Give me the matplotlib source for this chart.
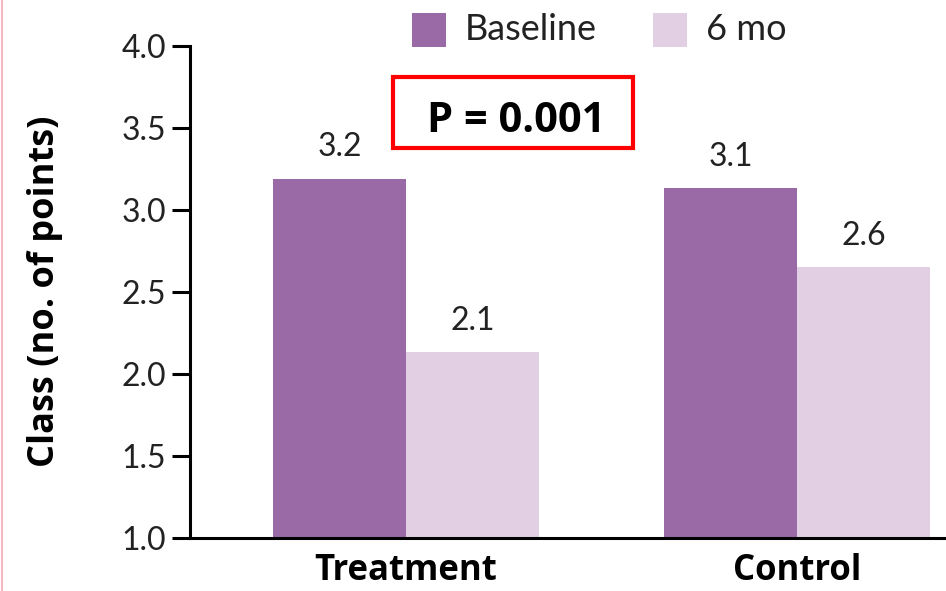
import matplotlib
matplotlib.use('Agg')
import matplotlib.pyplot as plt
import numpy as np
from matplotlib.lines import Line2D
from matplotlib.patches import Rectangle

groups = ['Treatment', 'Control']
series_names = ['Baseline', '6 mo']
baseline = [3.19, 3.13]
six_mo = [2.13, 2.65]
value_labels = [['3.2', '3.1'], ['2.1', '2.6']]
yticks = [1.0, 1.5, 2.0, 2.5, 3.0, 3.5, 4.0]
p_text = 'P = 0.001'

colors = ['#9a6aa7', '#e2cfe3']
txt_col = '#222222'

plt.rcParams['font.family'] = ['Lato', 'DejaVu Sans']

fig = plt.figure(figsize=(9.46, 5.91), dpi=100)
ax = fig.add_axes([190 / 946, 53.3 / 591, 756 / 946, 492 / 591])

x = np.arange(len(groups))
width = 0.34
bars1 = ax.bar(x - width / 2, baseline, width, color=colors[0])
bars2 = ax.bar(x + width / 2, six_mo, width, color=colors[1])

for bars, labels in zip([bars1, bars2], value_labels):
    for b, lab in zip(bars, labels):
        ax.text(b.get_x() + b.get_width() / 2, b.get_height() + 0.135, lab,
                ha='center', va='baseline', fontsize=23, color=txt_col)

ax.set_ylim(1.0, 4.0)
ax.set_xlim(-0.552, 1.381)
ax.set_yticks(yticks)
ax.set_yticklabels(['%.1f' % t for t in yticks], fontsize=23, color=txt_col)
ax.set_xticks(x)
ax.set_xticklabels(groups, fontsize=25, fontweight='bold', family='Open Sans', color='black')
ax.tick_params(axis='y', length=13, width=2.2, pad=4, direction='out')
ax.tick_params(axis='x', length=0, pad=11)
for s in ['top', 'right']:
    ax.spines[s].set_visible(False)
ax.spines['left'].set_linewidth(2.2)
ax.spines['bottom'].set_linewidth(2.2)
ax.set_ylabel('Class (no. of points)', fontsize=26, fontweight='bold', family='Open Sans')
ax.yaxis.set_label_coords(-0.168, 0.5)

# legend, laid out by hand
leg_items = [(412, series_names[0], colors[0]), (653, series_names[1], colors[1])]
for lx, name, col in leg_items:
    fig.add_artist(Rectangle((lx / 946, 1 - 47 / 591), 34 / 946, 34 / 591,
                             transform=fig.transFigure, facecolor=col, edgecolor='none'))
    fig.text((lx + 53) / 946, 1 - 40 / 591, name, ha='left', va='baseline',
             fontsize=26, color=txt_col)

# P value box
fig.text(516 / 946, 1 - 132 / 591, p_text, ha='center', va='baseline',
         fontsize=30, fontweight='bold', family='Open Sans', color='black')
fig.add_artist(Rectangle((393 / 946, 1 - 148 / 591), 240 / 946, 71 / 591,
                         transform=fig.transFigure, fill=False, edgecolor='#ff0000', linewidth=3))

# thin pink line at the left edge
fig.add_artist(Line2D([1.5 / 946, 1.5 / 946], [0, 1], transform=fig.transFigure,
                      color='#f6b9c2', linewidth=1.5))

fig.savefig('out.png', dpi=100)
